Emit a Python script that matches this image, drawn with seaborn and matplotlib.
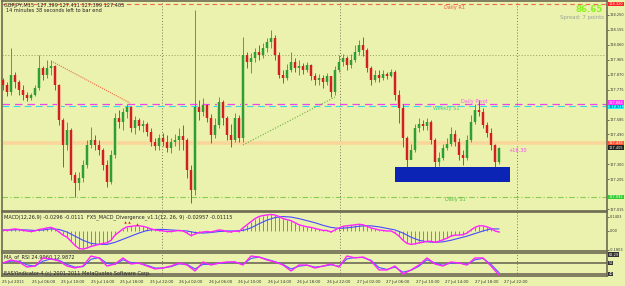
import numpy as np
import pandas as pd
import matplotlib
matplotlib.use("Agg")
import matplotlib.pyplot as plt
import seaborn as sns
from matplotlib.transforms import blended_transform_factory

# ---------------- data ----------------
first_open = 127.836
closes = [127.804, 127.760, 127.868, 127.823, 127.773, 127.741, 127.722, 127.741, 127.785, 127.913,
          127.868, 127.913, 127.925, 127.804, 127.582, 127.423, 127.518, 127.232, 127.181, 127.213,
          127.296, 127.423, 127.455, 127.423, 127.391, 127.296, 127.187, 127.359, 127.595, 127.569,
          127.633, 127.664, 127.531, 127.582, 127.544, 127.556, 127.505, 127.442, 127.416, 127.467,
          127.442, 127.404, 127.442, 127.455, 127.480, 127.455, 127.264, 127.137, 127.664, 127.633,
          127.677, 127.595, 127.486, 127.550, 127.696, 127.595, 127.486, 127.455, 127.595, 127.467,
          127.995, 127.951, 127.976, 128.014, 127.995, 128.040, 128.078, 128.103, 127.995, 127.868,
          127.849, 127.900, 127.951, 127.913, 127.925, 127.900, 127.932, 127.862, 127.836, 127.849,
          127.823, 127.862, 127.760, 127.900, 127.951, 127.976, 127.932, 127.963, 128.014, 128.059,
          128.027, 127.913, 127.836, 127.868, 127.849, 127.874, 127.862, 127.887, 127.741, 127.658,
          127.467, 127.327, 127.391, 127.531, 127.556, 127.544, 127.569, 127.455, 127.315, 127.340,
          127.404, 127.429, 127.493, 127.442, 127.359, 127.340, 127.455, 127.569, 127.645, 127.633,
          127.550, 127.499, 127.423, 127.315, 127.405]
highs = [127.849, 127.823, 128.040, 127.887, 127.836, 127.804, 127.760, 127.754, 127.804, 127.995,
         127.925, 127.963, 127.963, 127.932, 127.811, 127.595, 127.569, 127.531, 127.251, 127.251,
         127.327, 127.455, 127.537, 127.486, 127.455, 127.404, 127.327, 127.391, 127.626, 127.645,
         127.658, 127.684, 127.671, 127.607, 127.595, 127.582, 127.569, 127.531, 127.467, 127.493,
         127.499, 127.486, 127.467, 127.493, 127.531, 127.550, 127.467, 127.296, 128.281, 127.709,
         127.722, 127.684, 127.620, 127.595, 127.728, 127.709, 127.607, 127.556, 127.626, 127.614,
         128.110, 128.014, 128.008, 128.040, 128.059, 128.072, 128.103, 128.154, 128.122, 128.014,
         127.900, 127.938, 128.014, 127.976, 127.963, 127.944, 127.951, 127.938, 127.881, 127.874,
         127.868, 127.881, 127.862, 127.925, 127.995, 128.002, 127.989, 128.002, 128.059, 128.091,
         128.110, 128.040, 127.925, 127.900, 127.900, 127.900, 127.887, 127.906, 127.900, 127.773,
         127.684, 127.480, 127.429, 127.556, 127.595, 127.582, 127.595, 127.582, 127.467, 127.378,
         127.429, 127.467, 127.537, 127.518, 127.467, 127.391, 127.486, 127.614, 127.684, 127.709,
         127.658, 127.569, 127.531, 127.429, 127.410]
lows = [127.773, 127.734, 127.741, 127.785, 127.741, 127.709, 127.703, 127.709, 127.734, 127.773,
        127.836, 127.849, 127.868, 127.773, 127.550, 127.283, 127.391, 127.200, 127.092, 127.137,
        127.187, 127.277, 127.404, 127.391, 127.359, 127.264, 127.156, 127.175, 127.340, 127.531,
        127.518, 127.595, 127.505, 127.493, 127.518, 127.505, 127.480, 127.416, 127.391, 127.391,
        127.416, 127.378, 127.372, 127.416, 127.391, 127.391, 127.213, 127.054, 127.105, 127.582,
        127.607, 127.569, 127.436, 127.467, 127.531, 127.550, 127.455, 127.410, 127.442, 127.442,
        127.442, 127.913, 127.881, 127.951, 127.963, 127.976, 128.014, 128.040, 127.963, 127.849,
        127.817, 127.836, 127.887, 127.887, 127.868, 127.874, 127.887, 127.836, 127.804, 127.804,
        127.785, 127.804, 127.728, 127.741, 127.887, 127.925, 127.900, 127.913, 127.951, 127.995,
        127.989, 127.887, 127.804, 127.823, 127.823, 127.836, 127.843, 127.855, 127.709, 127.563,
        127.410, 127.283, 127.340, 127.378, 127.505, 127.518, 127.518, 127.429, 127.277, 127.289,
        127.327, 127.391, 127.416, 127.416, 127.327, 127.296, 127.327, 127.442, 127.556, 127.607,
        127.531, 127.474, 127.391, 127.283, 127.302]

macd_main = [0.010, 0.005, 0.015, 0.020, 0.015, 0.005, 0.000, -0.005, 0.000, 0.015,
             0.020, 0.030, 0.035, 0.020, -0.010, -0.040, -0.060, -0.100, -0.140, -0.170,
             -0.175, -0.165, -0.150, -0.140, -0.130, -0.120, -0.115, -0.090, -0.040, -0.010,
             0.020, 0.040, 0.045, 0.050, 0.050, 0.045, 0.035, 0.020, 0.010, 0.005,
             0.000, -0.005, -0.005, 0.000, 0.005, 0.000, -0.020, -0.045, -0.030, -0.015,
             -0.010, -0.005, -0.010, 0.000, 0.010, 0.005, -0.005, -0.010, 0.000, -0.005,
             0.030, 0.060, 0.090, 0.120, 0.140, 0.150, 0.155, 0.160, 0.155, 0.140,
             0.120, 0.110, 0.100, 0.080, 0.060, 0.050, 0.040, 0.035, 0.025, 0.015,
             0.005, 0.005, -0.010, 0.010, 0.030, 0.045, 0.050, 0.055, 0.060, 0.065,
             0.060, 0.045, 0.030, 0.020, 0.010, 0.005, 0.000, 0.000, -0.020, -0.050,
             -0.090, -0.120, -0.130, -0.125, -0.115, -0.110, -0.100, -0.100, -0.110, -0.100,
             -0.085, -0.070, -0.050, -0.040, -0.040, -0.035, -0.020, 0.010, 0.035, 0.050,
             0.050, 0.040, 0.025, 0.000, -0.010]
macd_signal_idx = list(range(0, 125, 2))
macd_signal = [0.010, 0.010, 0.012, 0.010, 0.005, 0.010, 0.020, 0.015, -0.010, -0.050,
               -0.090, -0.120, -0.130, -0.130, -0.110, -0.080, -0.050, -0.020, 0.005, 0.015,
               0.015, 0.010, 0.005, 0.000, -0.015, -0.020, -0.015, -0.005, 0.000, 0.000,
               0.005, 0.030, 0.070, 0.105, 0.130, 0.140, 0.135, 0.120, 0.100, 0.080,
               0.055, 0.035, 0.025, 0.030, 0.040, 0.050, 0.050, 0.040, 0.025, 0.010,
               -0.020, -0.060, -0.090, -0.105, -0.110, -0.105, -0.090, -0.070, -0.050, -0.025,
               0.000, 0.020, 0.020]
div_idx = [30.5, 31.5, 33.5]
div_val = [0.085, 0.088, 0.072]

osc_idx = list(range(0, 125, 2))
osc_main = [52, 55.3, 53.1, 47.6, 48.7, 57.5, 56.4, 54.2, 48.7, 46.5, 48.7, 59.6, 57.5, 48.7, 50.9,
            57.5, 50.9, 52, 48.7, 45.5, 46.5, 48.7, 52, 49.8, 43.3, 53.1, 49.8, 52, 53.1, 53.1,
            49.8, 59.6, 58.5, 55.3, 53.1, 49.8, 43.3, 49.8, 49.8, 46.5, 48.7, 50.9, 47.6, 59.6,
            57.5, 58.5, 54.2, 44.4, 44.4, 48.7, 40, 44.4, 49.8, 57.5, 50.9, 48.7, 53.1, 52, 49.8,
            57.5, 57.5, 48.7, 38.9]
osc_ma = [52, 54, 54, 50, 48.5, 54, 56.5, 55, 50.5, 47.5, 48, 56, 58, 51.5, 50.5, 55.5, 52.5, 51.5,
          49.5, 46.5, 46.5, 48, 51, 50.5, 45.5, 50.5, 50.5, 51.5, 52.5, 53, 50.5, 57, 58.5, 56,
          53.5, 50.5, 45.5, 48.5, 49.5, 47.5, 48.5, 50, 48.5, 56.5, 58, 58, 55, 47, 45, 47.5, 42,
          44, 48.5, 55.5, 52, 49.5, 52, 52, 50.5, 55.5, 57, 50.5, 41.5]
osc_levels = [52, 40]

# chart objects
daily_r1 = 128.320
daily_pivot = 127.684
weekly_s1 = 127.671
orange_level = 127.436
bid_price = 127.405
daily_s1 = 127.092
grid_price = 127.995
day_breaks = [39.75, 84.25, 128.5]
red_tl_x, red_tl_y = [12.5, 31.75], [127.951, 127.690]
green_tl_x, green_tl_y = [60, 83], [127.423, 127.728]
zone_x = [98, 126.75]
zone_y = [127.187, 127.283]

price_ticks = [128.250, 128.155, 128.060, 127.965, 127.870, 127.775, 127.585, 127.490,
               127.300, 127.205, 127.015]
price_tick_labels = ["128.250", "128.155", "128.060", "127.965", "127.870", "127.775", "127.585",
                     "127.490", "127.300", "127.205", "127.015"]
time_tick_pos = [-0.25, 7.13, 14.52, 21.9, 29.3, 36.7, 44.1, 51.5, 58.85, 66.25, 73.6, 81.0,
                 88.4, 95.8, 103.2, 110.6, 118.0, 125.3]
time_labels = ["25 Jul 2011", "25 Jul 06:00", "25 Jul 10:00", "25 Jul 14:00", "25 Jul 18:00",
               "25 Jul 22:00", "26 Jul 02:00", "26 Jul 06:00", "26 Jul 10:00", "26 Jul 14:00",
               "26 Jul 18:00", "26 Jul 22:00", "27 Jul 02:00", "27 Jul 06:00", "27 Jul 10:00",
               "27 Jul 14:00", "27 Jul 18:00", "27 Jul 22:00"]

# ---------------- style ----------------
sns.set_style("white")
plt.rcParams['font.family'] = ['DejaVu Sans']
BG = '#eaf2ad'
EDGE = '#6d6a52'
BULL, BEAR = '#2f9e2f', '#cc2222'
PALE_BULL, PALE_BEAR = '#b9dd92', '#f4bb92'
FS = 3.6     # in-chart text
FSA = 2.5    # axis labels (right scale, time scale)

W, H = 625, 286
fig = plt.figure(figsize=(W / 100, H / 100), dpi=100, facecolor=BG)


def frac_axes(top, bottom, left=2, right=607):
    return fig.add_axes([left / W, 1 - bottom / H, (right - left) / W, (bottom - top) / H])


ax = frac_axes(1, 211)
axm = frac_axes(212, 251)
axo = frac_axes(253, 276)
XL = (-0.25, 151.0)

for a in (ax, axm, axo):
    a.set_facecolor(BG)
    a.set_xlim(*XL)
    for s in a.spines.values():
        s.set_color(EDGE)
        s.set_linewidth(1.2)
    a.yaxis.tick_right()
    a.tick_params(axis='y', labelsize=FSA, length=1.2, pad=0.5, colors='#333333', width=0.5)
    for d in day_breaks:
        a.axvline(d, color='#7a7660', lw=0.7, ls=(0, (1, 2)), zorder=1)

# ---------------- main price panel ----------------
n = len(closes)
x = np.arange(n)
c = np.array(closes)
o = np.array([first_open] + closes[:-1])
h = np.array(highs)
l = np.array(lows)
up = c >= o
col = np.where(up, BULL, BEAR)
pale = np.where(up, PALE_BULL, PALE_BEAR)
body_lo = np.minimum(o, c)
body_h = np.maximum(np.abs(c - o), 0.004)

ax.set_ylim(127.003, 128.339)
ax.set_yticks(price_ticks)
ax.set_yticklabels(price_tick_labels)
ax.set_xticks([])

ax.axhline(daily_r1, color='#f06a4a', lw=0.8, ls=(0, (4, 3)), zorder=1)
ax.axhline(grid_price, color='#93a060', lw=0.7, ls=(0, (1, 2)), zorder=1)
ax.axhline(orange_level, color='#fbd69a', lw=2.6, zorder=1)
ax.axhline(daily_pivot, color='#ee44ee', lw=0.9, ls=(0, (6, 4)), zorder=1)
ax.axhline(weekly_s1, color='#33dde8', lw=0.8, ls=(0, (6, 4)), zorder=1)
ax.axhline(daily_s1, color='#88cc55', lw=0.8, ls=(0, (5, 2, 1, 2)), zorder=1)

ax.bar(x, body_h, bottom=body_lo, width=1.0, color=pale, zorder=2, linewidth=0)
ax.vlines(x, l, h, colors=col, lw=0.6, zorder=3)
ax.bar(x, body_h, bottom=body_lo, width=0.55, color=col, zorder=4, linewidth=0)

ax.plot(red_tl_x, red_tl_y, color='#ee6a44', lw=0.8, ls=(0, (1, 1)), zorder=5)
ax.plot(green_tl_x, green_tl_y, color='#6cb040', lw=0.8, ls=(0, (1, 1.5)), zorder=5)
ax.fill_between(zone_x, zone_y[0], zone_y[1], color='#0b24b6', zorder=6, linewidth=0)

ax.text(113, 128.300, "Daily R1", color='#ee5050', fontsize=FS, ha='center', va='center')
ax.text(113, 127.073, "Daily S1", color='#55bb44', fontsize=FS, ha='center', va='center')
ax.text(107.5, 127.652, "Weekly S1", color='#44cc88', fontsize=FS, ha='left', va='center', zorder=7)
ax.text(114.5, 127.700, "Daily Pivot", color='#ff55ff', fontsize=FS, ha='left', va='center', zorder=7)
ax.text(126.3, 127.390, "+16.30", color='#ff44ff', fontsize=FS, ha='left', va='center', zorder=7)

tr = blended_transform_factory(ax.transAxes, ax.transData)
for val, txt, fc, tc in [(daily_r1, "128.320", '#ff2222', 'white'),
                         (daily_pivot + 0.008, "127.684", '#ff33ff', 'white'),
                         (weekly_s1 - 0.006, "127.671", '#22eeff', '#004444'),
                         (orange_level, "127.436", '#ff5533', 'white'),
                         (bid_price, "127.405", '#222222', 'white'),
                         (daily_s1, "127.092", '#33cc33', 'white')]:
    ax.text(1.0025, val, txt, transform=tr, fontsize=FSA, color=tc, ha='left', va='center',
            clip_on=False, zorder=10,
            bbox=dict(boxstyle='square,pad=0.12', fc=fc, ec='none'))

fig.text(4 / W, 1 - 5 / H, "GBPJPY,M15  127.399 127.411 127.399 127.405", fontsize=FS,
         color='#222222', va='center', ha='left')
fig.text(6 / W, 1 - 10.5 / H, "14 minutes 38 seconds left to bar end", fontsize=FS,
         color='#222222', va='center', ha='left')
fig.text(603 / W, 1 - 9 / H, "86.65", fontsize=6.2, color='#8cf222', weight='bold',
         ha='right', va='center')
fig.text(604 / W, 1 - 17 / H, "Spread: 7 points", fontsize=3.9, color='#9aa49a',
         ha='right', va='center')

# ---------------- MACD panel ----------------
axm.set_ylim(-0.194, 0.184)
axm.vlines(x, 0, macd_main, colors='#6f6f6f', lw=0.55, zorder=2)
dfm = pd.DataFrame({'i': x, 'v': macd_main})
dfs = pd.DataFrame({'i': macd_signal_idx, 'v': macd_signal})
sns.lineplot(data=dfs, x='i', y='v', ax=axm, color='#4a4aff', lw=0.8, zorder=3)
sns.lineplot(data=dfm, x='i', y='v', ax=axm, color='#ff22ff', lw=1.0, zorder=4)
axm.scatter(div_idx, div_val, s=3, color='#ee1111', marker='^', zorder=5, linewidths=0)
axm.set_yticks([0.1403, 0.0, -0.1803])
axm.set_yticklabels(["0.1403", "0.00", "-0.1803"])
axm.set_xticks([])
axm.set_xlabel("")
axm.set_ylabel("")
axm.text(2 / 605, 0.86, "MACD(12,26,9) -0.0296 -0.0111  FX5_MACD_Divergence_v1.1(12, 26, 9) -0.02957 -0.01115",
         transform=axm.transAxes, fontsize=FS, color='#222222', ha='left', va='center')

# ---------------- oscillator panel ----------------
axo.set_ylim(37.8, 62.9)
for lv in osc_levels:
    axo.axhline(lv, color='#77735e', lw=1.3, zorder=1)
dfo = pd.DataFrame({'i': osc_idx, 'm': osc_main, 'b': osc_ma})
sns.lineplot(data=dfo, x='i', y='b', ax=axo, color='#4a5aff', lw=0.8, zorder=3)
sns.lineplot(data=dfo, x='i', y='m', ax=axo, color='#ff22ff', lw=1.0, zorder=4)
axo.set_xlabel("")
axo.set_ylabel("")
axo.set_yticks([])
tro = blended_transform_factory(axo.transAxes, axo.transData)
for val, txt in [(61.0, "61.29"), (52, "52"), (40, "40")]:
    axo.text(1.0025, val, txt, transform=tro, fontsize=FSA, color='white', ha='left', va='center',
             clip_on=False, zorder=10, bbox=dict(boxstyle='square,pad=0.12', fc='#333333', ec='none'))
axo.text(2 / 605, 0.83, "MA_of_RSI 24.9960 12.9872", transform=axo.transAxes, fontsize=FS,
         color='#222222', ha='left', va='center')
axo.text(2 / 605, 0.12, "EASYIndicator-4 (c) 2001-2011 MetaQuotes Software Corp.",
         transform=axo.transAxes, fontsize=FS, color='#222222', ha='left', va='center')
axo.set_xticks(time_tick_pos)
axo.set_xticklabels(time_labels)
axo.tick_params(axis='x', labelsize=2.8, length=2, pad=1.2, colors='#333333', width=0.5)
for t in axo.get_xticklabels():
    t.set_ha('left')

fig.savefig("out.png", dpi=100, facecolor=BG)
